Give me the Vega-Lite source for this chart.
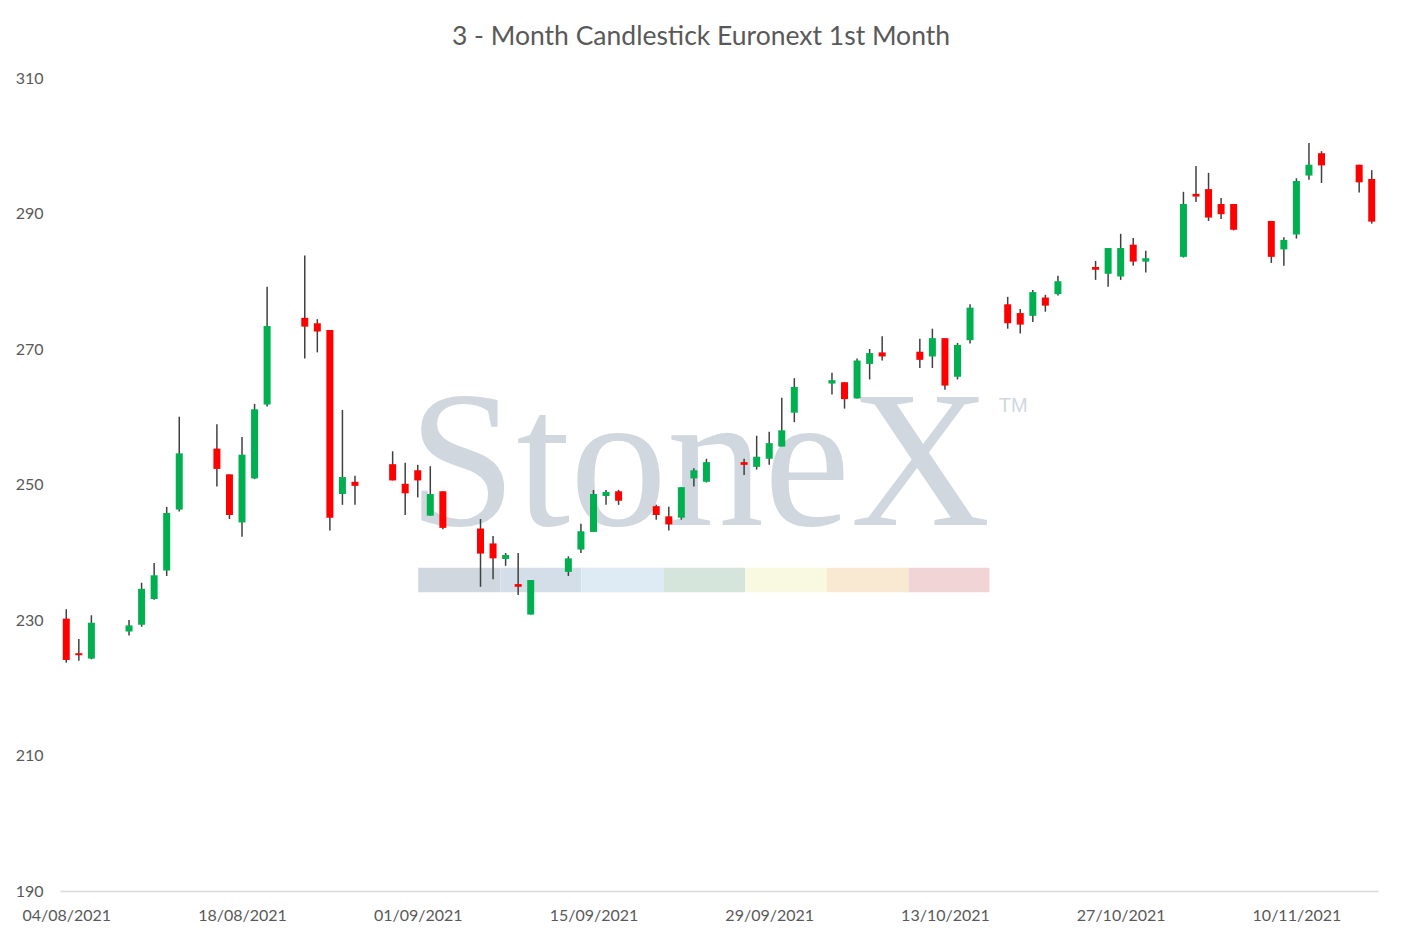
{
  "$schema": "https://vega.github.io/schema/vega-lite/v6.json",
  "description": "3 - Month Candlestick Euronext 1st Month",
  "width": 1318,
  "height": 813,
  "autosize": {"type": "none"},
  "padding": {"left": 60, "top": 78, "right": 24, "bottom": 50},
  "background": "#ffffff",
  "title": {
    "text": "3 - Month Candlestick Euronext 1st Month",
    "font": "Lato",
    "fontSize": 26.5,
    "fontWeight": "normal",
    "color": "#595959",
    "anchor": "middle",
    "frame": "group",
    "dx": -18,
    "offset": 20
  },
  "data": {
    "values": [
      {"date": "2021-08-04", "open": 230.2, "high": 231.6, "low": 223.7, "close": 224.1},
      {"date": "2021-08-05", "open": 225.1, "high": 227.2, "low": 224.0, "close": 224.8},
      {"date": "2021-08-06", "open": 224.3, "high": 230.7, "low": 224.2, "close": 229.6},
      {"date": "2021-08-09", "open": 228.3, "high": 230.0, "low": 227.7, "close": 229.2},
      {"date": "2021-08-10", "open": 229.3, "high": 235.5, "low": 229.0, "close": 234.6},
      {"date": "2021-08-11", "open": 233.1, "high": 238.4, "low": 233.0, "close": 236.6},
      {"date": "2021-08-12", "open": 237.3, "high": 246.7, "low": 236.5, "close": 245.8},
      {"date": "2021-08-13", "open": 246.3, "high": 260.0, "low": 246.0, "close": 254.6},
      {"date": "2021-08-16", "open": 255.3, "high": 258.9, "low": 249.7, "close": 252.3},
      {"date": "2021-08-17", "open": 251.5, "high": 251.5, "low": 244.9, "close": 245.5},
      {"date": "2021-08-18", "open": 244.4, "high": 257.0, "low": 242.3, "close": 254.4},
      {"date": "2021-08-19", "open": 250.9, "high": 261.9, "low": 250.8, "close": 261.1},
      {"date": "2021-08-20", "open": 261.8, "high": 279.2, "low": 261.5, "close": 273.4},
      {"date": "2021-08-23", "open": 274.6, "high": 283.8, "low": 268.6, "close": 273.3},
      {"date": "2021-08-24", "open": 273.8, "high": 274.4, "low": 269.5, "close": 272.6},
      {"date": "2021-08-25", "open": 272.8, "high": 272.8, "low": 243.2, "close": 245.1},
      {"date": "2021-08-26", "open": 248.6, "high": 261.0, "low": 247.0, "close": 251.1},
      {"date": "2021-08-27", "open": 250.4, "high": 251.3, "low": 247.0, "close": 249.8},
      {"date": "2021-08-30", "open": 253.0, "high": 254.9, "low": 250.6, "close": 250.6},
      {"date": "2021-08-31", "open": 250.1, "high": 253.2, "low": 245.5, "close": 248.7},
      {"date": "2021-09-01", "open": 252.1, "high": 252.9, "low": 248.1, "close": 250.6},
      {"date": "2021-09-02", "open": 245.4, "high": 252.7, "low": 245.4, "close": 248.6},
      {"date": "2021-09-03", "open": 249.0, "high": 249.0, "low": 243.4, "close": 243.6},
      {"date": "2021-09-06", "open": 243.5, "high": 244.9, "low": 234.9, "close": 239.8},
      {"date": "2021-09-07", "open": 241.3, "high": 242.4, "low": 236.0, "close": 239.1},
      {"date": "2021-09-08", "open": 239.0, "high": 239.9, "low": 238.0, "close": 239.6},
      {"date": "2021-09-09", "open": 235.3, "high": 239.9, "low": 233.7, "close": 234.9},
      {"date": "2021-09-10", "open": 230.8, "high": 235.9, "low": 230.8, "close": 235.9},
      {"date": "2021-09-13", "open": 237.1, "high": 239.4, "low": 236.5, "close": 239.1},
      {"date": "2021-09-14", "open": 240.4, "high": 244.2, "low": 239.9, "close": 243.1},
      {"date": "2021-09-15", "open": 243.0, "high": 249.2, "low": 243.0, "close": 248.6},
      {"date": "2021-09-16", "open": 248.3, "high": 249.2, "low": 247.0, "close": 248.9},
      {"date": "2021-09-17", "open": 249.0, "high": 249.2, "low": 247.0, "close": 247.6},
      {"date": "2021-09-20", "open": 246.8, "high": 247.0, "low": 244.8, "close": 245.5},
      {"date": "2021-09-21", "open": 245.3, "high": 246.7, "low": 243.2, "close": 244.1},
      {"date": "2021-09-22", "open": 245.1, "high": 249.6, "low": 244.8, "close": 249.6},
      {"date": "2021-09-23", "open": 250.9, "high": 252.4, "low": 249.7, "close": 252.1},
      {"date": "2021-09-24", "open": 250.4, "high": 253.8, "low": 250.3, "close": 253.3},
      {"date": "2021-09-27", "open": 253.3, "high": 253.8, "low": 251.4, "close": 252.9},
      {"date": "2021-09-28", "open": 252.6, "high": 257.2, "low": 252.2, "close": 254.1},
      {"date": "2021-09-29", "open": 253.8, "high": 257.8, "low": 252.9, "close": 256.1},
      {"date": "2021-09-30", "open": 255.6, "high": 262.8, "low": 255.6, "close": 258.0},
      {"date": "2021-10-01", "open": 260.6, "high": 265.7, "low": 259.2, "close": 264.4},
      {"date": "2021-10-04", "open": 264.9, "high": 266.5, "low": 263.3, "close": 265.4},
      {"date": "2021-10-05", "open": 265.1, "high": 265.1, "low": 261.2, "close": 262.6},
      {"date": "2021-10-06", "open": 262.7, "high": 268.6, "low": 262.7, "close": 268.3},
      {"date": "2021-10-07", "open": 267.8, "high": 270.0, "low": 265.5, "close": 269.4},
      {"date": "2021-10-08", "open": 269.5, "high": 271.9, "low": 268.3, "close": 268.9},
      {"date": "2021-10-11", "open": 269.6, "high": 271.5, "low": 267.2, "close": 268.4},
      {"date": "2021-10-12", "open": 268.9, "high": 273.0, "low": 267.2, "close": 271.6},
      {"date": "2021-10-13", "open": 271.6, "high": 271.6, "low": 264.0, "close": 264.6},
      {"date": "2021-10-14", "open": 265.9, "high": 270.9, "low": 265.5, "close": 270.6},
      {"date": "2021-10-15", "open": 271.3, "high": 276.6, "low": 270.8, "close": 276.1},
      {"date": "2021-10-18", "open": 276.6, "high": 277.7, "low": 273.0, "close": 273.8},
      {"date": "2021-10-19", "open": 275.3, "high": 275.9, "low": 272.3, "close": 273.6},
      {"date": "2021-10-20", "open": 274.9, "high": 278.7, "low": 274.0, "close": 278.4},
      {"date": "2021-10-21", "open": 277.6, "high": 278.0, "low": 275.5, "close": 276.4},
      {"date": "2021-10-22", "open": 278.1, "high": 280.8, "low": 277.9, "close": 280.0},
      {"date": "2021-10-25", "open": 282.1, "high": 283.0, "low": 280.2, "close": 281.7},
      {"date": "2021-10-26", "open": 281.1, "high": 284.9, "low": 279.2, "close": 284.9},
      {"date": "2021-10-27", "open": 280.7, "high": 287.0, "low": 280.2, "close": 284.9},
      {"date": "2021-10-28", "open": 285.4, "high": 286.4, "low": 282.3, "close": 282.9},
      {"date": "2021-10-29", "open": 282.9, "high": 284.5, "low": 281.3, "close": 283.4},
      {"date": "2021-11-01", "open": 283.6, "high": 293.2, "low": 283.5, "close": 291.4},
      {"date": "2021-11-02", "open": 292.9, "high": 297.0, "low": 291.7, "close": 292.5},
      {"date": "2021-11-03", "open": 293.6, "high": 296.0, "low": 288.9, "close": 289.4},
      {"date": "2021-11-04", "open": 291.4, "high": 292.3, "low": 289.2, "close": 289.9},
      {"date": "2021-11-05", "open": 291.4, "high": 291.4, "low": 287.5, "close": 287.6},
      {"date": "2021-11-08", "open": 288.9, "high": 288.9, "low": 282.7, "close": 283.6},
      {"date": "2021-11-09", "open": 284.7, "high": 286.5, "low": 282.3, "close": 286.1},
      {"date": "2021-11-10", "open": 286.9, "high": 295.2, "low": 286.3, "close": 294.8},
      {"date": "2021-11-11", "open": 295.6, "high": 300.4, "low": 295.0, "close": 297.2},
      {"date": "2021-11-12", "open": 298.9, "high": 299.2, "low": 294.5, "close": 297.1},
      {"date": "2021-11-15", "open": 297.2, "high": 297.2, "low": 293.1, "close": 294.6},
      {"date": "2021-11-16", "open": 295.1, "high": 296.4, "low": 288.5, "close": 288.8}
    ]
  },
  "layer": [
    {
      "data": {
        "values": [
          {"seg": "s1", "start": "2021-09-01T01:00:00Z", "end": "2021-09-07T14:00:00Z"},
          {"seg": "s2", "start": "2021-09-07T14:00:00Z", "end": "2021-09-14T01:00:00Z"},
          {"seg": "s3", "start": "2021-09-14T01:00:00Z", "end": "2021-09-20T13:40:00Z"},
          {"seg": "s4", "start": "2021-09-20T13:40:00Z", "end": "2021-09-27T02:20:00Z"},
          {"seg": "s5", "start": "2021-09-27T02:20:00Z", "end": "2021-10-03T13:30:00Z"},
          {"seg": "s6", "start": "2021-10-03T13:30:00Z", "end": "2021-10-10T02:20:00Z"},
          {"seg": "s7", "start": "2021-10-10T02:20:00Z", "end": "2021-10-16T13:10:00Z"}
        ]
      },
      "mark": {"type": "rect"},
      "encoding": {
        "x": {"field": "start", "type": "temporal"},
        "x2": {"field": "end"},
        "y": {"datum": 234.1, "type": "quantitative"},
        "y2": {"datum": 237.7},
        "color": {
          "field": "seg",
          "type": "nominal",
          "scale": {
            "domain": ["s1", "s2", "s3", "s4", "s5", "s6", "s7"],
            "range": ["#d1d7df", "#d4dee9", "#dfebf4", "#d6e5db", "#f9f8e0", "#f9e9d2", "#f1d4d5"]
          },
          "legend": null
        }
      }
    },
    {
      "data": {"values": [{"label": "StoneX"}]},
      "mark": {
        "type": "text",
        "font": "Liberation Serif",
        "fontSize": 194,
        "color": "#d0d7df",
        "align": "left",
        "baseline": "alphabetic"
      },
      "encoding": {
        "x": {"datum": {"year": 2021, "month": 8, "date": 31, "hours": 6, "utc": true}, "type": "temporal"},
        "y": {"datum": 244.0, "type": "quantitative"},
        "text": {"field": "label"}
      }
    },
    {
      "data": {"values": [{"label": "TM"}]},
      "mark": {
        "type": "text",
        "font": "Liberation Sans",
        "fontSize": 20,
        "color": "#d0d7df",
        "align": "left",
        "baseline": "top"
      },
      "encoding": {
        "x": {"datum": {"year": 2021, "month": 10, "date": 17, "hours": 7, "utc": true}, "type": "temporal"},
        "y": {"datum": 263.0, "type": "quantitative"},
        "text": {"field": "label"}
      }
    },
    {
      "mark": {"type": "rule", "color": "#404040", "strokeWidth": 1.5},
      "encoding": {
        "x": {"field": "date", "type": "temporal"},
        "y": {"field": "low", "type": "quantitative"},
        "y2": {"field": "high"}
      }
    },
    {
      "mark": {"type": "bar", "width": 7},
      "encoding": {
        "x": {
          "field": "date",
          "type": "temporal",
          "title": null,
          "scale": {
            "type": "utc",
            "padding": 0,
            "domain": [
              {"year": 2021, "month": 8, "date": 3, "hours": 12, "utc": true},
              {"year": 2021, "month": 11, "date": 16, "hours": 12, "utc": true}
            ]
          },
          "axis": {
            "format": "%d/%m/%Y",
            "values": [
              {"year": 2021, "month": 8, "date": 4, "utc": true},
              {"year": 2021, "month": 8, "date": 18, "utc": true},
              {"year": 2021, "month": 9, "date": 1, "utc": true},
              {"year": 2021, "month": 9, "date": 15, "utc": true},
              {"year": 2021, "month": 9, "date": 29, "utc": true},
              {"year": 2021, "month": 10, "date": 13, "utc": true},
              {"year": 2021, "month": 10, "date": 27, "utc": true},
              {"year": 2021, "month": 11, "date": 10, "utc": true}
            ]
          }
        },
        "y": {
          "field": "open",
          "type": "quantitative",
          "title": null,
          "scale": {"domain": [190, 310], "nice": false, "zero": false},
          "axis": {"values": [190, 210, 230, 250, 270, 290, 310]}
        },
        "y2": {"field": "close"},
        "color": {
          "condition": {"test": "datum.close >= datum.open", "value": "#00b050"},
          "value": "#ff0000"
        }
      }
    }
  ],
  "config": {
    "view": {"stroke": null},
    "axis": {
      "grid": false,
      "ticks": false,
      "labelFont": "Lato",
      "labelFontSize": 16,
      "labelColor": "#595959"
    },
    "axisX": {
      "domainColor": "#d9d9d9",
      "domainWidth": 1.5,
      "labelPadding": 16,
      "labelFlush": false,
      "labelOverlap": false
    },
    "axisY": {
      "domain": false,
      "labelPadding": 17
    }
  }
}
